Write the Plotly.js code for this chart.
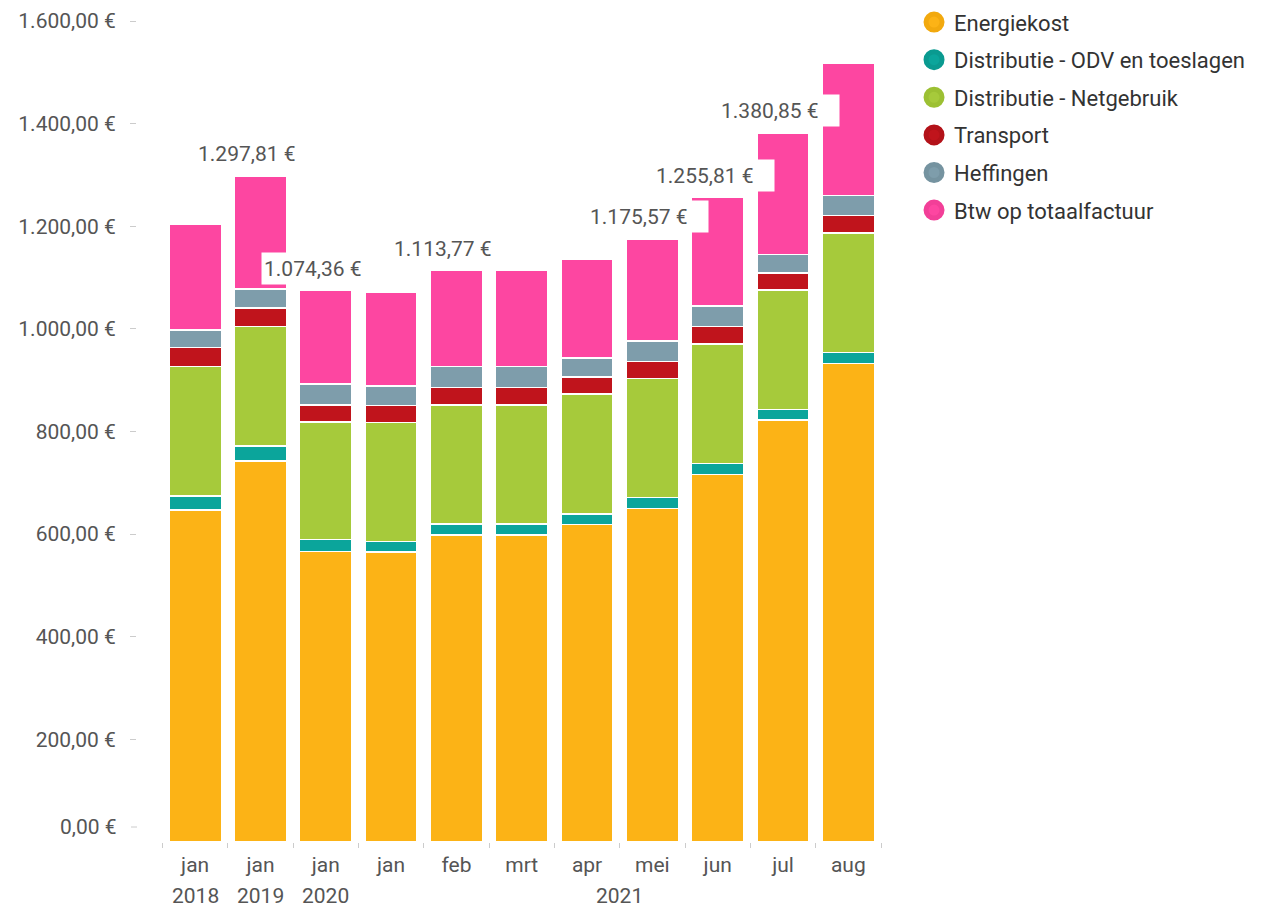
<!DOCTYPE html>
<html>
<head>
<meta charset="utf-8">
<script src="https://cdn.plot.ly/plotly-3.0.1.min.js"></script>
<style>
html,body{margin:0;padding:0;background:#fff;}
#chart{width:1263px;height:910px;}
</style>
</head>
<body>
<div id="chart"></div>
<script>
// ---- data ----
const categories = ["jan 2018","jan 2019","jan 2020","jan 2021","feb 2021","mrt 2021","apr 2021","mei 2021","jun 2021","jul 2021","aug 2021"];
const monthLabels = ["jan","jan","jan","jan","feb","mrt","apr","mei","jun","jul","aug"];
const yearNames = ["2018","2019","2020","2021"];
const yearFirst = [0,1,2,3];
const yearLast  = [0,1,2,10];

const seriesNames = ["Energiekost","Distributie - ODV en toeslagen","Distributie - Netgebruik","Transport","Heffingen","Btw op totaalfactuur"];
const energiekost = [647.0, 742.5, 565.7, 565.0, 598.3, 598.3, 619.1, 649.5, 716.6, 822.4, 932.9];
const odv         = [27.3, 29.2, 24.2, 20.6, 21.4, 21.4, 20.1, 21.5, 21.4, 20.1, 21.4];
const netgebruik  = [252.3, 232.5, 228.6, 232.3, 231.9, 231.9, 233.9, 231.9, 232.5, 233.2, 232.5];
const transport   = [36.7, 36.9, 33.1, 33.1, 34.5, 34.5, 33.1, 33.9, 33.7, 33.2, 33.7];
const heffingen   = [34.1, 37.0, 41.0, 37.7, 40.2, 40.2, 37.0, 39.2, 40.0, 36.0, 39.4];
const btw         = [206.4, 219.71, 181.76, 183.1, 187.47, 187.2, 193.0, 199.57, 211.61, 235.95, 257.7];
const labeledBars = [1, 2, 4, 7, 8, 9];

const yTickValues = [200,400,600,800,1000,1200,1400,1600];

// ---- styles ----
const colors = ["#FCB316","#0BA59B","#A6CA3B","#C0141C","#7E9DAB","#FD46A1"];
const borderColors = ["#F2A90E","#0A9A90","#9CC033","#B31219","#7593A0","#F23F98"];
const FONT = "Roboto, 'Open Sans', sans-serif";
const TXT = "#555555";
const FS = 21;

function fmt(v){
  const fixed = v.toFixed(2);
  let [ip, dp] = fixed.split(".");
  ip = ip.replace(/\B(?=(\d{3})+(?!\d))/g, ".");
  return ip + "," + dp + " €";
}

const allSeries = [energiekost, odv, netgebruik, transport, heffingen, btw];
const traces = [];
allSeries.forEach((vals, i) => {
  traces.push({
    type: "bar", x: categories, y: vals, name: seriesNames[i],
    marker: {color: colors[i], line: {color: "#ffffff", width: 1.5}},
    showlegend: false, hoverinfo: "x+y+name"
  });
});
// legend entries with round symbols
allSeries.forEach((vals, i) => {
  traces.push({
    type: "scatter", mode: "markers", x: [null], y: [null], name: seriesNames[i],
    legendgroup: "g" + i,
    marker: {color: colors[i], size: 16, line: {color: borderColors[i], width: 5}},
    showlegend: true, hoverinfo: "skip"
  });
});

const totals = categories.map((c, k) => allSeries.reduce((s, arr) => s + arr[k], 0));

const annotations = [];
labeledBars.forEach(k => {
  annotations.push({
    x: categories[k], y: totals[k], xref: "x", yref: "y",
    text: fmt(totals[k]), showarrow: false,
    yanchor: "bottom", xanchor: "center", yshift: 6, xshift: -4,
    bgcolor: "#ffffff", borderpad: 2, width: 116, height: 27, align: "left",
    font: {family: FONT, size: FS, color: TXT}
  });
});
// zero label (placed slightly above the baseline like the original)
annotations.push({
  x: 0, y: 0, xref: "paper", yref: "y", text: "0,00 €", showarrow: false,
  xanchor: "right", yanchor: "middle", xshift: -18, yshift: 15,
  font: {family: FONT, size: FS, color: TXT}
});
// year labels
yearNames.forEach((yn, j) => {
  const mid = (yearFirst[j] + yearLast[j]) / 2;
  annotations.push({
    x: mid, y: 0, xref: "x", yref: "y", text: yn, showarrow: false,
    xanchor: "center", yanchor: "middle", yshift: -54, borderpad: 0,
    font: {family: FONT, size: FS, color: TXT}
  });
});

const shapes = [];
// tick for zero label
shapes.push({type: "line", xref: "paper", yref: "y", xsizemode: "pixel", xanchor: 0, x0: -6, x1: 0,
  ysizemode: "pixel", yanchor: 0, y0: 15, y1: 15, line: {color: "#cccccc", width: 1}});
yearNames.forEach((yn, j) => {
  const mid = (yearFirst[j] + yearLast[j]) / 2;
  if (yearLast[j] > yearFirst[j]) {
    shapes.push({type: "line", xref: "x", yref: "y", x0: yearFirst[j], x1: yearLast[j],
      ysizemode: "pixel", yanchor: 0, y0: -39, y1: -39, line: {color: "#cccccc", width: 1}});
    shapes.push({type: "line", xref: "x", yref: "y", x0: mid, x1: mid,
      ysizemode: "pixel", yanchor: 0, y0: -39, y1: -43, line: {color: "#cccccc", width: 1}});
  } else {
    shapes.push({type: "line", xref: "x", yref: "y", x0: mid, x1: mid,
      ysizemode: "pixel", yanchor: 0, y0: -37, y1: -42, line: {color: "#cccccc", width: 1}});
  }
});

const layout = {
  width: 1263, height: 910,
  margin: {l: 137, r: 382, t: 21, b: 68, pad: 0, autoexpand: false},
  paper_bgcolor: "#ffffff", plot_bgcolor: "#ffffff",
  font: {family: FONT, size: FS, color: TXT},
  barmode: "stack", bargap: 0.2,
  xaxis: {
    type: "category", range: [-0.89, 10.5],
    tickvals: categories, ticktext: monthLabels,
    tickson: "boundaries", ticks: "outside", ticklen: 5, tickcolor: "#cccccc",
    ticklabelstandoff: 8,
    showline: false, showgrid: false, zeroline: false, fixedrange: true,
    tickfont: {family: FONT, size: FS, color: TXT}
  },
  yaxis: {
    range: [0, 1600],
    tickvals: yTickValues, ticktext: yTickValues.map(fmt),
    ticks: "outside", ticklen: 6, tickcolor: "#cccccc", ticklabelstandoff: 10,
    showline: false, showgrid: false, zeroline: false, fixedrange: true,
    tickfont: {family: FONT, size: FS, color: TXT}
  },
  legend: {
    x: 1.0444, xanchor: "left", y: 1.024, yanchor: "top",
    traceorder: "grouped", tracegroupgap: 6,
    font: {family: FONT, size: 22, color: "#333333"},
    bgcolor: "rgba(0,0,0,0)", itemclick: false, itemdoubleclick: false
  },
  annotations: annotations,
  shapes: shapes,
  showlegend: true
};

Plotly.newPlot("chart", traces, layout, {displayModeBar: false});
</script>
</body>
</html>
